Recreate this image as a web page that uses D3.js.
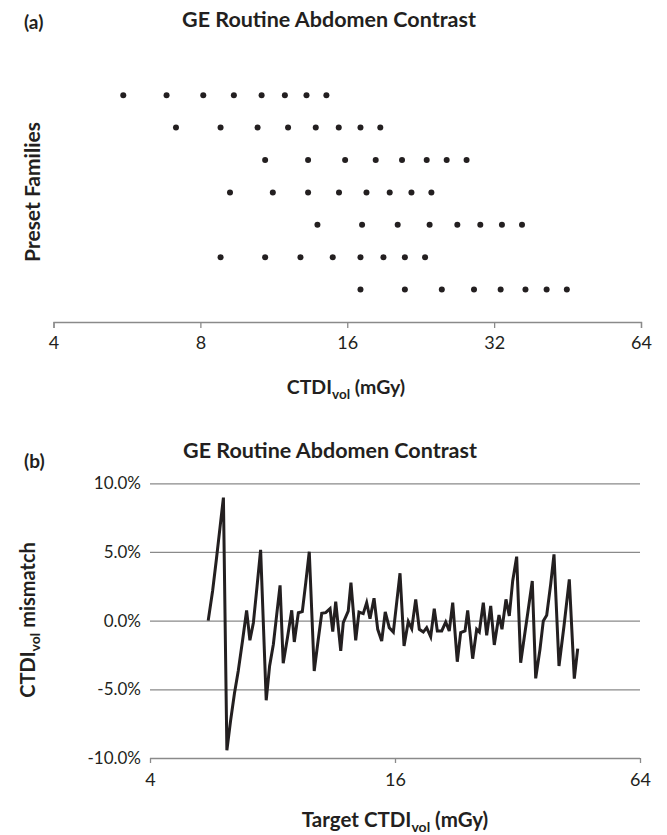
<!DOCTYPE html>
<html><head><meta charset="utf-8">
<script src="https://cdn.jsdelivr.net/npm/d3@7"></script>
<style>
body{margin:0;background:#fff;}
svg text{font-family:Lato,"Open Sans",sans-serif;fill:#231f20;}
</style>
</head><body>
<svg id="chart" width="667" height="835"></svg>
<script>
// ---- Panel (a): CTDIvol of each preset family (mGy) ----
const family1 = [5.56, 6.82, 8.11, 9.37, 10.68, 11.92, 13.2, 14.5];
const family2 = [7.13, 8.8, 10.48, 12.1, 13.79, 15.37, 17.03, 18.7];
const family3 = [10.86, 13.3, 15.84, 18.3, 20.72, 23.28, 25.58, 28.1];
const family4 = [9.2, 11.26, 13.3, 15.39, 17.52, 19.55, 21.66, 23.8];
const family5 = [13.9, 17.16, 20.3, 23.6, 26.9, 29.98, 33.2, 36.5];
const family6 = [8.8, 10.86, 12.83, 14.94, 17.03, 18.98, 21.0, 23.1];
const family7 = [17.03, 21.0, 25.0, 29.1, 33.0, 37.1, 41.0, 45.1];
const familyTicks = [4, 8, 16, 32, 64];

// ---- Panel (b): mismatch (%) vs target CTDIvol (mGy) ----
const targetCTDI = [5.56, 5.70, 5.82, 5.94, 6.06, 6.18, 6.31, 6.45, 6.59, 6.76,
  6.91, 7.04, 7.18, 7.33, 7.48, 7.72, 7.87, 8.04, 8.19, 8.35,
  8.50, 8.71, 8.92, 9.05, 9.26, 9.47, 9.66, 9.85, 10.13, 10.35,
  10.57, 10.81, 11.08, 11.25, 11.44, 11.77, 11.94, 12.28, 12.47, 12.81,
  13.05, 13.37, 13.63, 13.89, 14.21, 14.51, 14.84, 15.14, 15.49, 15.85,
  16.15, 16.46, 16.84, 17.25, 17.59, 17.99, 18.36, 18.78, 19.14, 19.58,
  19.98, 20.33, 20.84, 21.32, 21.75, 22.18, 22.76, 23.20, 23.78, 24.14,
  24.83, 25.40, 25.78, 26.37, 26.88, 27.50, 28.06, 28.82, 29.31, 29.98,
  30.55, 31.14, 31.85, 32.58, 33.23, 33.96, 34.79, 35.47, 36.34, 37.03,
  37.75, 38.61, 39.34, 40.47, 41.63, 42.90, 44.13, 44.99];
const mismatch = [0.0, 2.16, 4.4, 6.7, 8.96, -9.44, -7.3, -5.3, -3.67, -1.36,
  0.75, -1.43, -0.15, 2.5, 5.15, -5.8, -3.3, -1.72, 0.4, 2.57,
  -3.1, -1.2, 0.75, -1.55, 0.58, 0.66, 2.8, 5.02, -3.67, -1.5,
  0.53, 0.58, 0.87, -0.8, 1.38, -2.2, -0.15, 0.70, 2.77, -1.43,
  0.63, 0.51, 1.31, 0.15, 1.63, -0.63, -1.48, 0.63, -0.51, -0.83,
  1.3, 3.45, -1.84, -0.07, -0.58, 1.55, -0.63, -0.83, -0.51, -1.17,
  0.87, -0.75, -0.75, -0.10, -0.75, 1.31, -2.99, -0.87, -0.75, 0.75,
  -2.77, -0.63, -0.83, 1.31, -1.07, 1.07, -1.77, 0.41, -0.63, 1.55,
  0.34, 2.89, 4.66, -3.06, -1.26, 0.68, 2.89, -4.2, -2.09, -0.02,
  0.39, 2.65, 4.83, -3.3, -0.39, 3.01, -4.22, -2.04];
const targetTicks = [4, 16, 64];
const mismatchTicks = [-10, -5, 0, 5, 10];

const titleText = "GE Routine Abdomen Contrast";
const ink = "#231f20", axisGrey = "#8a8a8a";

const svg = d3.select("#chart");
const pct = d => d.toFixed(1) + "%";

// ================= Panel (a) =================
const families = [family1, family2, family3, family4, family5, family6, family7];
const xA = d3.scaleLog().base(2).domain([4, 64]).range([53.5, 641]);
const yA = d3.scaleLinear().domain([0, 8]).range([322, 62.8]);

svg.append("text").attr("x", 24).attr("y", 29).attr("font-size", 19).attr("font-weight", 700).text("(a)");
svg.append("text").attr("x", 329).attr("y", 27).attr("text-anchor", "middle")
  .attr("font-size", 21.5).attr("font-weight", 700).text(titleText);

const gA = svg.append("g");
families.forEach((fam, i) => {
  gA.selectAll(null).data(fam).enter().append("circle")
    .attr("cx", d => xA(d)).attr("cy", yA(7 - i)).attr("r", 3).attr("fill", ink);
});

const axA = svg.append("g").attr("transform", `translate(0,${yA(0)})`)
  .call(d3.axisBottom(xA).tickValues(familyTicks).tickFormat(d3.format("d")).tickSize(6).tickSizeOuter(6));
axA.selectAll("path,line").attr("stroke", axisGrey).attr("stroke-width", 1.3);
axA.selectAll("text").attr("font-size", 18).attr("dy", "1.0em").style("font-family", "Lato").attr("fill", ink);

svg.append("text").attr("transform", "translate(40,192) rotate(-90)").attr("text-anchor", "middle")
  .attr("font-size", 21).attr("font-weight", 700).text("Preset Families");

const tA = svg.append("text").attr("x", 346).attr("y", 394).attr("text-anchor", "middle")
  .attr("font-size", 19.5).attr("font-weight", 700);
tA.append("tspan").text("CTDI");
tA.append("tspan").attr("font-size", 13.5).attr("dy", 5).text("vol");
tA.append("tspan").attr("dy", -5).text(" (mGy)");

// ================= Panel (b) =================
const xB = d3.scaleLog().base(2).domain([4, 64]).range([150, 640]);
const yB = d3.scaleLinear().domain([-10, 10]).range([758, 483.3]);

svg.append("text").attr("x", 24).attr("y", 468).attr("font-size", 19).attr("font-weight", 700).text("(b)");
svg.append("text").attr("x", 330).attr("y", 458).attr("text-anchor", "middle")
  .attr("font-size", 21.5).attr("font-weight", 700).text(titleText);

const gridB = svg.append("g").attr("transform", "translate(150,0)")
  .call(d3.axisLeft(yB).tickValues(mismatchTicks).tickFormat(pct)
    .tickSize(-490).tickPadding(9));
gridB.select(".domain").remove();
gridB.selectAll("line").attr("stroke", axisGrey).attr("stroke-width", 1.3);
gridB.selectAll("text").attr("font-size", 17).style("font-family", "Lato").attr("fill", ink);

const axB = svg.append("g").attr("transform", `translate(0,${yB(-10)})`)
  .call(d3.axisBottom(xB).tickValues(targetTicks).tickFormat(d3.format("d")).tickSize(5).tickSizeOuter(0));
axB.select(".domain").remove();
axB.selectAll("line").attr("stroke", axisGrey).attr("stroke-width", 1.3);
axB.selectAll("text").attr("font-size", 18).attr("dy", "1.1em").style("font-family", "Lato").attr("fill", ink);

const line = d3.line().x((d, i) => xB(targetCTDI[i])).y(d => yB(d));
svg.append("path").datum(mismatch).attr("d", line).attr("fill", "none")
  .attr("stroke", ink).attr("stroke-width", 3).attr("stroke-linejoin", "miter").attr("stroke-miterlimit", 4);

const yT = svg.append("text").attr("transform", "translate(35,620) rotate(-90)").attr("text-anchor", "middle")
  .attr("font-size", 20).attr("font-weight", 700);
yT.append("tspan").text("CTDI");
yT.append("tspan").attr("font-size", 14).attr("dy", 5).text("vol");
yT.append("tspan").attr("dy", -5).text(" mismatch");

const xT = svg.append("text").attr("x", 395).attr("y", 827).attr("text-anchor", "middle")
  .attr("font-size", 20.5).attr("font-weight", 700);
xT.append("tspan").text("Target CTDI");
xT.append("tspan").attr("font-size", 14).attr("dy", 5).text("vol");
xT.append("tspan").attr("dy", -5).text(" (mGy)");
</script>
</body></html>
